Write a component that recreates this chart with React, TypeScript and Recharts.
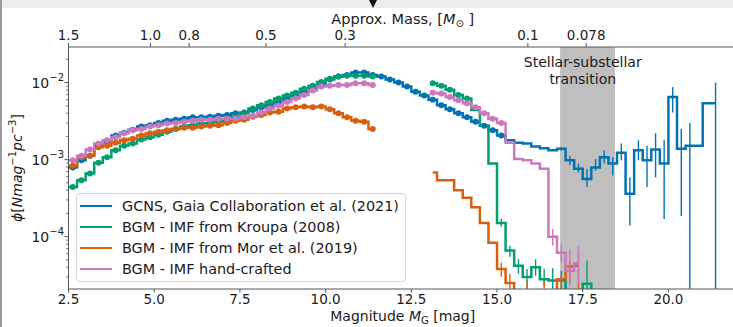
import React from 'react';
import { ComposedChart, Line, XAxis, YAxis, ErrorBar, ReferenceArea, ReferenceLine, Legend } from 'recharts';

// bin centres, 0.25 mag bins
const magnitudes = [
  2.375, 2.625, 2.875, 3.125, 3.375, 3.625, 3.875, 4.125, 4.375, 4.625,
  4.875, 5.125, 5.375, 5.625, 5.875, 6.125, 6.375, 6.625, 6.875, 7.125,
  7.375, 7.625, 7.875, 8.125, 8.375, 8.625, 8.875, 9.125, 9.375, 9.625,
  9.875, 10.125, 10.375, 10.625, 10.875, 11.125, 11.375, 11.625, 11.875, 12.125,
  12.375, 12.625, 12.875, 13.125, 13.375, 13.625, 13.875, 14.125, 14.375, 14.625,
  14.875, 15.125, 15.375, 15.625, 15.875, 16.125, 16.375, 16.625, 16.875, 17.125,
  17.375, 17.625, 17.875, 18.125, 18.375, 18.625, 18.875, 19.125, 19.375, 19.625,
  19.875, 20.125, 20.375, 20.625, 20.875, 21.125, 21.375,
];

const gcns = [
  7.9e-4, 7.9e-4, 9.8e-4, 1.12e-3, 1.51e-3, 1.7e-3, 2.05e-3, 2.24e-3, 2.45e-3, 2.7e-3,
  2.8e-3, 3.0e-3, 3.2e-3, 3.3e-3, 3.4e-3, 3.55e-3, 3.55e-3, 3.6e-3, 3.7e-3, 3.8e-3,
  4.0e-3, 4.1e-3, 4.4e-3, 4.8e-3, 5.1e-3, 5.6e-3, 6.2e-3, 6.8e-3, 7.6e-3, 8.3e-3,
  9.3e-3, 1.1e-2, 1.2e-2, 1.26e-2, 1.35e-2, 1.35e-2, 1.26e-2, 1.2e-2, 1.1e-2, 1.0e-2,
  8.9e-3, 7.6e-3, 6.8e-3, 6.0e-3, 5.1e-3, 4.5e-3, 4.0e-3, 3.55e-3, 3.1e-3, 2.75e-3,
  2.4e-3, 2.05e-3, 1.78e-3, 1.66e-3, 1.62e-3, 1.48e-3, 1.4e-3, 1.32e-3, 1.38e-3, 9.8e-4,
  7.6e-4, 5.6e-4, 7.9e-4, 1.07e-3, 8.9e-4, 1.23e-3, 3.6e-4, 1.32e-3, 9.8e-4, 1.35e-3,
  8.9e-4, 6.5e-3, 1.38e-3, 1.51e-3, 1.51e-3, 5.4e-3, 5.4e-3,
];

const kroupa = [
  4.4e-4, 4.4e-4, 5.4e-4, 6.6e-4, 9.1e-4, 1.07e-3, 1.32e-3, 1.51e-3, 1.62e-3, 1.82e-3,
  1.95e-3, 2.1e-3, 2.3e-3, 2.5e-3, 2.7e-3, 2.8e-3, 2.95e-3, 3.0e-3, 3.1e-3, 3.3e-3,
  3.55e-3, 4.0e-3, 4.6e-3, 5.1e-3, 5.6e-3, 6.2e-3, 6.8e-3, 7.4e-3, 8.3e-3, 9.1e-3,
  1.02e-2, 1.12e-2, 1.2e-2, 1.23e-2, 1.23e-2, 1.23e-2, 1.2e-2, null, null, null,
  null, null, null, 9.8e-3, 9.1e-3, 8.1e-3, 6.9e-3, 6.2e-3, 4.4e-3, 2.75e-3,
  8.9e-4, 1.5e-4, 6.6e-5, 4.2e-5, 3.0e-5, 4.0e-5, 2.8e-5, 2.7e-5, 2.7e-5, 1e-6,
  1e-6, 2.45e-5, 1e-6, null, null, null, null, null, null, null,
  null, null, null, null, null, null, null,
];

const mor = [
  8.3e-4, 8.3e-4, 1.07e-3, 1.12e-3, 1.45e-3, 1.51e-3, 1.66e-3, 1.78e-3, 1.86e-3, 2.05e-3,
  2.2e-3, 2.3e-3, 2.4e-3, 2.5e-3, 2.6e-3, 2.6e-3, 2.7e-3, 2.75e-3, 2.8e-3, 3.0e-3,
  3.2e-3, 3.3e-3, 3.6e-3, 3.8e-3, 4.1e-3, 4.2e-3, 4.6e-3, 4.8e-3, 4.9e-3, 4.8e-3,
  4.9e-3, 4.5e-3, 4.0e-3, 3.55e-3, 3.2e-3, 3.1e-3, 2.5e-3, null, null, null,
  null, null, null, 6.8e-4, 5.4e-4, 5.4e-4, 4.0e-4, 3.2e-4, 2.4e-4, 1.5e-4,
  8.3e-5, 3.8e-5, 2.5e-5, 1e-6, 1e-6, 1e-6, 1e-6, 1e-6, 2.8e-5, 4.1e-5,
  4.2e-5, null, null, null, null, null, null, null, null, null,
  null, null, null, null, null, null, null,
];

const handCrafted = [
  9.8e-4, 9.8e-4, 1.12e-3, 1.35e-3, 1.62e-3, 1.78e-3, 1.95e-3, 2.2e-3, 2.4e-3, 2.5e-3,
  2.7e-3, 2.8e-3, 2.95e-3, 3.0e-3, 3.1e-3, 3.2e-3, 3.3e-3, 3.3e-3, 3.4e-3, 3.4e-3,
  3.4e-3, 3.55e-3, 3.7e-3, 4.1e-3, 4.6e-3, 5.0e-3, 5.6e-3, 6.2e-3, 6.9e-3, 7.9e-3,
  8.9e-3, 9.1e-3, 9.3e-3, 9.3e-3, 9.8e-3, 9.8e-3, 9.3e-3, null, null, null,
  null, null, null, 7.4e-3, 7.2e-3, 6.5e-3, 5.9e-3, 5.4e-3, 4.8e-3, 4.0e-3,
  3.4e-3, 3.0e-3, 1.66e-3, 1.02e-3, 9.8e-4, 8.9e-4, 7.6e-4, 1.0e-4, 6.2e-5, 3.6e-5,
  4.5e-5, null, null, null, null, null, null, null, null, null,
  null, null, null, null, null, null, null,
];

// error bars (only where they show past the line); 2.1e-5 = reaches the bottom axis
const gcnsErrMag = [16.875, 17.125, 17.375, 17.625, 17.875, 18.125, 18.375, 18.625, 18.875, 19.125, 19.375, 19.625, 19.875, 20.125, 20.375, 20.625, 21.375];
const gcnsErrLow = [1.3e-3, 8.5e-4, 6.8e-4, 4.4e-4, 7.2e-4, 8.9e-4, 6.2e-4, 9.8e-4, 1.4e-4, 9.8e-4, 4.4e-4, 5.9e-4, 1.7e-4, 4.1e-3, 1.86e-4, 2.1e-5, 2.1e-5];
const gcnsErrHigh = [1.45e-3, 1.12e-3, 8.9e-4, 7.6e-4, 1.02e-3, 1.32e-3, 1.07e-3, 1.62e-3, 5.9e-4, 1.78e-3, 1.51e-3, 2.2e-3, 1.78e-3, 8.7e-3, 2.5e-3, 3.0e-3, 1.0e-2];

const kroupaErrMag = [15.125, 15.375, 15.625, 15.875, 16.125, 16.375, 16.625, 16.875, 17.625];
const kroupaErrLow = [1.35e-4, 5.5e-5, 3.3e-5, 2.1e-5, 3.1e-5, 2.3e-5, 2.1e-5, 2.1e-5, 2.1e-5];
const kroupaErrHigh = [1.7e-4, 7.6e-5, 5.1e-5, 3.8e-5, 5.1e-5, 3.8e-5, 3.9e-5, 3.6e-5, 4.9e-5];

const morErrMag = [15.125, 15.375, 15.875, 16.375, 16.875, 17.125, 17.375];
const morErrLow = [3.0e-5, 2.1e-5, 2.1e-5, 2.1e-5, 2.1e-5, 2.5e-5, 2.1e-5];
const morErrHigh = [4.6e-5, 3.3e-5, 2.7e-5, 2.7e-5, 3.1e-5, 4.9e-5, 6.0e-5];

const handErrMag = [16.625, 16.875, 17.125, 17.375];
const handErrLow = [7.6e-5, 4.6e-5, 2.3e-5, 2.5e-5];
const handErrHigh = [1.26e-4, 8.1e-5, 6.9e-5, 7.6e-5];

const xTicks = [2.5, 5, 7.5, 10, 12.5, 15, 17.5, 20];
const yMajorTicks = [1e-4, 1e-3, 1e-2];
const yMajorExponents = ['\u22124', '\u22123', '\u22122'];
const yMinorTicks = [
  3e-5, 4e-5, 5e-5, 6e-5, 7e-5, 8e-5, 9e-5,
  2e-4, 3e-4, 4e-4, 5e-4, 6e-4, 7e-4, 8e-4, 9e-4,
  2e-3, 3e-3, 4e-3, 5e-3, 6e-3, 7e-3, 8e-3, 9e-3,
  2e-2,
];
const massTickMag = [2.5, 4.89, 6.02, 8.26, 10.57, 15.9, 17.6];
const massTickLabels = ['1.5', '1.0', '0.8', '0.5', '0.3', '0.1', '0.078'];

const FONT = '"DejaVu Sans", sans-serif';
const INK = '#1a1a1a';
const AXIS = '#555';

const series = [
  { key: 'gcns', name: 'GCNS, Gaia Collaboration et al. (2021)', color: '#0173B2', values: gcns, errMag: gcnsErrMag, errLow: gcnsErrLow, errHigh: gcnsErrHigh, dotUntil: 15.2 },
  { key: 'kroupa', name: 'BGM - IMF from Kroupa (2008)', color: '#029E73', values: kroupa, errMag: kroupaErrMag, errLow: kroupaErrLow, errHigh: kroupaErrHigh, dotUntil: 14.2 },
  { key: 'mor', name: 'BGM - IMF from Mor et al. (2019)', color: '#D95F0E', values: mor, errMag: morErrMag, errLow: morErrLow, errHigh: morErrHigh, dotUntil: 11.5 },
  { key: 'hand', name: 'BGM - IMF hand-crafted', color: '#CC78BC', values: handCrafted, errMag: handErrMag, errLow: handErrLow, errHigh: handErrHigh, dotUntil: 15.2 },
];

const rows = magnitudes.map((m, i) => {
  const row: Record<string, any> = { m };
  series.forEach((s) => {
    const v = s.values[i];
    row[s.key] = v;
    // markers only on the well-populated bins
    row[s.key + 'Dot'] = v != null && m >= 2.5 && m <= s.dotUntil ? v : null;
    const j = s.errMag.indexOf(m);
    if (j >= 0 && v != null) row[s.key + 'Err'] = [v - s.errLow[j], s.errHigh[j] - v];
  });
  return row;
});

const BottomTick = (p: any) => (
  <g>
    <line x1={p.x} x2={p.x} y1={p.y} y2={p.y + 3.5} stroke={AXIS} />
    <text x={p.x} y={p.y + 14.5} textAnchor="middle" fontSize={13.5} fill={INK} fontFamily={FONT}>
      {p.payload.value.toFixed(1)}
    </text>
  </g>
);

const TopTick = (p: any) => {
  const j = massTickMag.indexOf(p.payload.value);
  return (
    <g>
      <line x1={p.x} x2={p.x} y1={p.y} y2={p.y - 4} stroke={AXIS} />
      <text x={p.x} y={p.y - 7} textAnchor="middle" fontSize={13.5} fill={INK} fontFamily={FONT}>
        {massTickLabels[j]}
      </text>
    </g>
  );
};

const LeftTick = (p: any) => {
  const j = yMajorTicks.indexOf(p.payload.value);
  const major = j >= 0;
  return (
    <g>
      <line x1={p.x} x2={p.x - (major ? 4 : 2.5)} y1={p.y} y2={p.y} stroke={AXIS} strokeWidth={major ? 1 : 0.8} />
      {major && (
        <text x={p.x - 4.5} y={p.y + 5.5} textAnchor="end" fontSize={14} fill={INK} fontFamily={FONT}>
          10<tspan dy={-7} fontSize={10}>{yMajorExponents[j]}</tspan>
        </text>
      )}
    </g>
  );
};

const BottomLabel = (p: any) => {
  const { x, y, width } = p.viewBox;
  return (
    <text x={x + width / 2} y={y + 32} textAnchor="middle" fontSize={14} fill={INK} fontFamily={FONT}>
      Magnitude <tspan fontStyle="italic">M</tspan>
      <tspan fontSize={10} dy={3}>G</tspan>
      <tspan dy={-3}> [mag]</tspan>
    </text>
  );
};

const TopLabel = (p: any) => {
  const { x, width } = p.viewBox;
  return (
    <text x={x + width / 2} y={24} textAnchor="middle" fontSize={14.5} fill={INK} fontFamily={FONT}>
      Approx. Mass, [<tspan fontStyle="italic">M</tspan>
      <tspan fontSize={10} dy={3}>{'\u2299'}</tspan>
      <tspan dy={-3}> ]</tspan>
    </text>
  );
};

const LeftLabel = (p: any) => {
  const { y, height } = p.viewBox;
  const cx = 22;
  const cy = y + height / 2;
  return (
    <text x={cx} y={cy} transform={`rotate(-90, ${cx}, ${cy})`} textAnchor="middle" fontSize={14} fill={INK} fontFamily={FONT}>
      <tspan fontStyle="italic">{'\u03d5'}</tspan>[<tspan fontStyle="italic">Nmag</tspan>
      <tspan fontSize={10} dy={-6}>{'\u22121'}</tspan>
      <tspan fontStyle="italic" dy={6}>pc</tspan>
      <tspan fontSize={10} dy={-6}>{'\u22123'}</tspan>
      <tspan dy={6}>]</tspan>
    </text>
  );
};

const TransitionLabel = (p: any) => {
  const { x, y } = p.viewBox;
  return (
    <text x={x} y={y + 20} textAnchor="middle" fontSize={14} fill={INK} fontFamily={FONT}>
      <tspan x={x}>Stellar-substellar</tspan>
      <tspan x={x} dy={17}>transition</tspan>
    </text>
  );
};

const LegendBox = () => (
  <div
    style={{
      boxSizing: 'border-box',
      width: 330,
      height: 89,
      border: '1px solid #d4d4d4',
      borderRadius: 4,
      background: 'rgba(255,255,255,0.8)',
      padding: '1.5px 0 0 3px',
      fontFamily: FONT,
      fontSize: 14.4,
      color: INK,
    }}
  >
    {series.map((s) => (
      <div key={s.key} style={{ display: 'flex', alignItems: 'center', height: 21, whiteSpace: 'nowrap' }}>
        <span style={{ display: 'inline-block', width: 32, height: 2.5, background: s.color, marginRight: 10 }} />
        <span>{s.name}</span>
      </div>
    ))}
  </div>
);

export default function App() {
  return (
    <div style={{ position: 'fixed', left: 0, top: 0, width: 733, height: 327, overflow: 'hidden', background: '#fff' }}>
      <ComposedChart width={740} height={327} data={rows} margin={{ top: 0, right: 3, bottom: 0, left: 0 }}>
        <XAxis
          dataKey="m"
          type="number"
          domain={[2.5, 22]}
          allowDataOverflow
          ticks={xTicks}
          interval={0}
          height={38}
          tickSize={0}
          tickMargin={0}
          tickLine={false}
          axisLine={{ stroke: AXIS }}
          tick={BottomTick}
          label={{ content: BottomLabel }}
        />
        <XAxis
          xAxisId="top"
          orientation="top"
          dataKey="m"
          type="number"
          domain={[2.5, 22]}
          allowDataOverflow
          ticks={massTickMag}
          interval={0}
          height={47}
          tickSize={0}
          tickMargin={0}
          tickLine={false}
          axisLine={{ stroke: AXIS }}
          tick={TopTick}
          label={{ content: TopLabel }}
        />
        <YAxis
          type="number"
          scale="log"
          domain={[2.09e-5, 0.029]}
          allowDataOverflow
          ticks={[...yMinorTicks, ...yMajorTicks]}
          interval={0}
          width={68.5}
          tickSize={0}
          tickMargin={0}
          tickLine={false}
          axisLine={{ stroke: AXIS }}
          tick={LeftTick}
          label={{ content: LeftLabel }}
        />
        <ReferenceArea x1={16.84} x2={18.44} fill="#bfbfbf" fillOpacity={1} stroke="none" />
        <ReferenceLine x={17.5} stroke="none" label={{ content: TransitionLabel }} />
        {series.flatMap((s) => [
          <Line
            key={s.key}
            dataKey={s.key}
            name={s.name}
            type="step"
            stroke={s.color}
            strokeWidth={2.5}
            dot={false}
            activeDot={false}
            connectNulls={false}
            isAnimationActive={false}
          >
            <ErrorBar dataKey={s.key + 'Err'} direction="y" width={0} stroke={s.color} strokeWidth={1.4} />
          </Line>,
          <Line
            key={s.key + 'Dot'}
            dataKey={s.key + 'Dot'}
            legendType="none"
            stroke={s.color}
            strokeOpacity={0}
            dot={{ r: 3, fill: s.color, stroke: s.color, strokeWidth: 0 }}
            activeDot={false}
            isAnimationActive={false}
          />,
        ])}
        <Legend
          layout="vertical"
          align="center"
          verticalAlign="middle"
          wrapperStyle={{ left: 76, top: 193, width: 330, height: 89 }}
          content={LegendBox}
        />
      </ComposedChart>
      <div style={{ position: 'absolute', left: 0, top: 0, width: 733, height: 8, background: '#ececec' }} />
      <div style={{ position: 'absolute', left: 0, top: 0, width: 2, height: 327, background: '#9a9a9a' }} />
      <div
        style={{
          position: 'absolute',
          left: 369,
          top: 0,
          width: 0,
          height: 0,
          borderLeft: '4px solid transparent',
          borderRight: '4px solid transparent',
          borderTop: '8px solid #111',
        }}
      />
    </div>
  );
}
